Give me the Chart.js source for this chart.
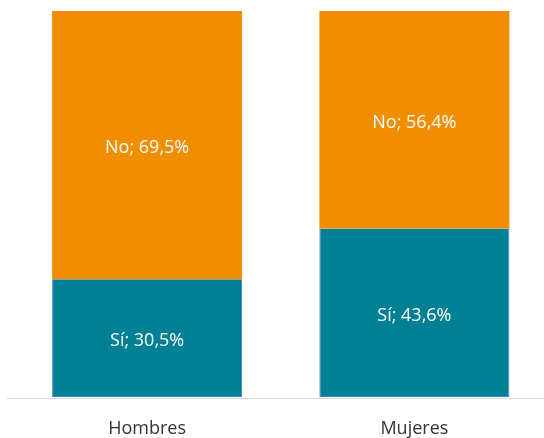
<!DOCTYPE html>
<html>
<head>
<meta charset="utf-8">
<script src="https://cdn.jsdelivr.net/npm/chart.js@4.4.1/dist/chart.umd.min.js"></script>
<style>
  html, body { margin: 0; padding: 0; background: #fff; overflow: hidden; }
  #wrap { width: 548px; height: 438px; }
</style>
</head>
<body>
<div id="wrap"><canvas id="genderChart"></canvas></div>
<script>
// Data
const categories = ['Hombres', 'Mujeres'];
const siValues = [30.5, 43.6];
const noValues = [69.5, 56.4];
const seriesNames = ['Sí', 'No'];

// Writes "Sí; 30,5%" in the middle of every bar segment
const segmentLabels = {
    id: 'segmentLabels',
    afterDatasetsDraw(chart) {
        const ctx = chart.ctx;
        ctx.save();
        ctx.fillStyle = '#ffffff';
        ctx.font = '18px "Open Sans", sans-serif';
        ctx.textAlign = 'center';
        ctx.textBaseline = 'middle';
        chart.data.datasets.forEach((ds, i) => {
            chart.getDatasetMeta(i).data.forEach((bar, j) => {
                const mid = (bar.y + bar.base) / 2 + 3;
                const txt = ds.label + '; ' + ds.data[j].toFixed(1).replace('.', ',') + '%';
                ctx.fillText(txt, bar.x, mid);
            });
        });
        ctx.restore();
    }
};

// Light baseline under the bars
const baseLine = {
    id: 'baseLine',
    beforeDatasetsDraw(chart) {
        const ctx = chart.ctx;
        const y = chart.scales.y.getPixelForValue(0) + 1;
        ctx.save();
        ctx.strokeStyle = '#d9d9d9';
        ctx.lineWidth = 1;
        ctx.beginPath();
        ctx.moveTo(7, y + 0.5);
        ctx.lineTo(chart.width, y + 0.5);
        ctx.stroke();
        ctx.restore();
    }
};

window.addEventListener('DOMContentLoaded', function() {
    const ctx = document.getElementById('genderChart').getContext('2d');
    window.currentChart = new Chart(ctx, {
        type: 'bar',
        data: {
            labels: categories,
            datasets: [{
                label: seriesNames[0],
                data: siValues,
                backgroundColor: '#008094',
                borderColor: '#4a7fbf',
                borderWidth: { left: 1, right: 1, bottom: 1, top: 0 },
                borderSkipped: false,
                barPercentage: 0.711,
                categoryPercentage: 1
            }, {
                label: seriesNames[1],
                data: noValues,
                backgroundColor: '#f18e00',
                borderWidth: 0,
                barPercentage: 0.711,
                categoryPercentage: 1
            }]
        },
        options: {
            responsive: true,
            maintainAspectRatio: false,
            animation: false,
            layout: { padding: { left: 13.5, right: 0, top: 11, bottom: 0 } },
            plugins: {
                legend: { display: false },
                tooltip: { enabled: false }
            },
            scales: {
                x: {
                    stacked: true,
                    grid: { display: false, drawTicks: false },
                    border: { display: false },
                    afterFit: function(scale) { scale.height = 41; },
                    ticks: {
                        color: '#333333',
                        font: { family: '"Open Sans", sans-serif', size: 18 },
                        padding: 21
                    }
                },
                y: {
                    stacked: true,
                    display: false,
                    min: 0,
                    max: 100
                }
            }
        },
        plugins: [segmentLabels, baseLine]
    });
});
</script>
</body>
</html>
